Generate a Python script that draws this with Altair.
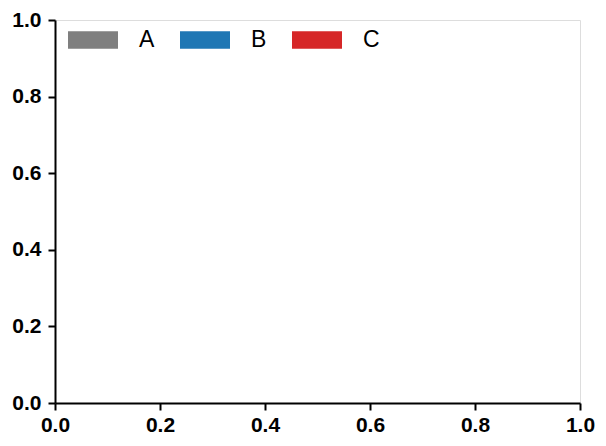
import altair as alt
import pandas as pd

series = ["A", "B", "C"]
colors = ["#7f7f7f", "#1f77b4", "#d62728"]
tick_values = [0.0, 0.2, 0.4, 0.6, 0.8, 1.0]

df = pd.DataFrame({
    "series": series,
    "x": pd.Series([None, None, None], dtype=object),
    "y": pd.Series([None, None, None], dtype=object),
})

FONT = "Liberation Sans"

axis_common = dict(
    values=tick_values,
    format=".1f",
    title=None,
    grid=False,
    domainColor="black",
    domainWidth=2,
    tickColor="black",
    tickWidth=2,
    tickSize=7,
    labelFont=FONT,
    labelFontSize=21,
    labelFontWeight="bold",
    labelColor="black",
    labelFlush=False,
    labelOverlap=False,
)

chart = alt.Chart(df).mark_point(filled=True, size=0, opacity=0).encode(
    x=alt.X("x:Q", scale=alt.Scale(domain=[0, 1], nice=False, zero=False),
            axis=alt.Axis(labelPadding=4, **axis_common)),
    y=alt.Y("y:Q", scale=alt.Scale(domain=[0, 1], nice=False, zero=False),
            axis=alt.Axis(labelPadding=7, **axis_common)),
    color=alt.Color(
        "series:N",
        scale=alt.Scale(domain=series, range=colors),
        legend=alt.Legend(
            title=None,
            orient="none",
            legendX=13,
            legendY=-5,
            direction="horizontal",
            columns=3,
            symbolType="M-1,-0.348H1V0.348H-1Z",
            symbolSize=2500,
            symbolStrokeWidth=0,
            symbolOpacity=1,
            labelFont=FONT,
            labelFontSize=23,
            labelColor="black",
            labelOffset=21,
            columnPadding=25,
            padding=0,
        ),
    ),
).properties(
    width=525,
    height=383,
    autosize=alt.AutoSizeParams(type="none"),
    padding={"left": 47, "top": 12, "right": 16, "bottom": 34},
).configure_view(
    stroke="black",
    strokeWidth=2,
).configure(background="white")

chart.save("out.html", embed_options={"renderer": "svg", "actions": False})
